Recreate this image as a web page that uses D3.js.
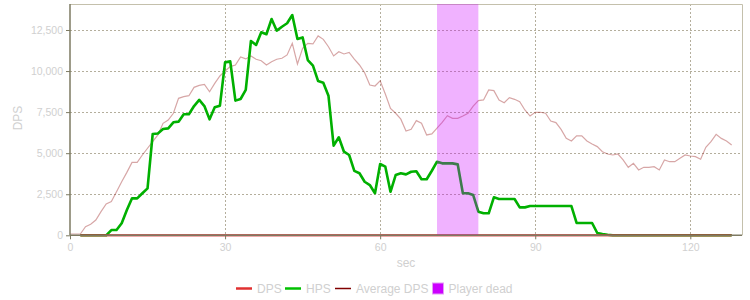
<!DOCTYPE html>
<html>
<head>
<meta charset="utf-8">
<script src="https://cdn.jsdelivr.net/npm/d3@7"></script>
<style>
  body { margin: 0; background: #fff; }
  text { font-family: "Liberation Sans", Arial, sans-serif; }
</style>
</head>
<body>
<svg id="chart"></svg>
<script>
// per-second samples; DPS/HPS start at second 2, average DPS at second 0
const seriesStart = 2;
const avgStart = 0;

const dpsValues = [
  0, 0, 0, 0, 0, 0, 0, 0, 0, 0, 0, 0, 0, 0, 0, 0, 0, 0, 0, 0,
  0, 0, 0, 0, 0, 0, 0, 0, 0, 0, 0, 0, 0, 0, 0, 0, 0, 0, 0, 0,
  0, 0, 0, 0, 0, 0, 0, 0, 0, 0, 0, 0, 0, 0, 0, 0, 0, 0, 0, 0,
  0, 0, 0, 0, 0, 0, 0, 0, 0, 0, 0, 0, 0, 0, 0, 0, 0, 0, 0, 0,
  0, 0, 0, 0, 0, 0, 0, 0, 0, 0, 0, 0, 0, 0, 0, 0, 0, 0, 0, 0,
  0, 0, 0, 0, 0, 0, 0, 0, 0, 0, 0, 0, 0, 0, 0, 0, 0, 0, 0, 0,
  0, 0, 0, 0, 0, 0, 0
];

const hpsValues = [
  0, 0, 0, 0, 0, 0,                                   // 2-7
  320, 320, 730, 1540, 2250, 2250, 2560, 2860,        // 8-15
  6170, 6200, 6470, 6510, 6880, 6920, 7370, 7370,     // 16-23
  7870, 8240, 7870, 7060, 7790, 7890, 10530, 10590,   // 24-31
  8200, 8300, 8850, 11830, 11590, 12360, 12240, 13170, // 32-39
  12460, 12700, 12910, 13410, 11950, 12050, 10670, 10330, // 40-47
  9390, 9290, 8500, 5460, 5970, 5090, 4890, 3920,     // 48-55
  3780, 3260, 3060, 2560, 4340, 4180, 2650, 3670,     // 56-63
  3780, 3710, 3870, 3900, 3410, 3410, 3930, 4480,     // 64-71
  4380, 4380, 4380, 4320, 2560, 2560, 2450, 1440,     // 72-79
  1340, 1340, 2310, 2210, 2210, 2210, 2210, 1700,     // 80-87
  1700, 1780, 1780, 1780, 1780, 1780, 1780, 1780,     // 88-95
  1780, 1780, 750, 750, 750, 750, 140, 80,            // 96-103
  30, 0, 0, 0, 0, 0, 0, 0,                            // 104-111
  0, 0, 0, 0, 0, 0, 0, 0,                             // 112-119
  0, 0, 0, 0, 0, 0, 0, 0, 0                           // 120-128
];

const avgDpsValues = [
  80, 80, 80, 520, 670, 930, 1440, 1910,              // 0-7
  2050, 2650, 3260, 3830, 4440, 4440, 4890, 5300,     // 8-15
  5700, 6110, 6820, 7020, 7430, 8340, 8440, 8500,     // 16-23
  9010, 9130, 9190, 8740, 9250, 9700, 10000, 10270,   // 24-31
  10370, 10860, 10740, 10920, 10720, 10630, 10370, 10570, // 32-39
  10720, 10780, 10980, 11690, 10430, 11390, 11690, 11650, // 40-47
  12140, 11930, 11480, 10920, 11180, 11040, 11140, 10720, // 48-55
  10370, 9900, 9150, 9090, 9410, 8600, 7730, 7430,    // 56-63
  7070, 6350, 6450, 6980, 6820, 6110, 6170, 6520,     // 64-71
  6880, 7280, 7120, 7120, 7260, 7430, 7870, 8200,     // 72-79
  8240, 8850, 8810, 8240, 8070, 8380, 8280, 8130,     // 80-87
  7630, 7260, 7490, 7490, 7430, 6960, 6860, 6450,     // 88-95
  5900, 5740, 6050, 6050, 5740, 5560, 5400, 5090,     // 96-103
  4950, 4890, 4950, 4590, 4140, 4380, 3980, 4140,     // 104-111
  4140, 4180, 3980, 4590, 4480, 4480, 4690, 4890,     // 112-119
  4830, 4790, 4630, 5360, 5700, 6150, 5900, 5740,     // 120-127
  5500                                                // 128
];

// seconds where the player was dead
const deadPeriods = [[71, 79]];

const xTicks = [0, 30, 60, 90, 120];
const yTicks = [0, 2500, 5000, 7500, 10000, 12500];
const legendLabels = ["DPS", "HPS", "Average DPS", "Player dead"];

const width = 750;
const height = 300;
const plot = { left: 70, top: 4, right: 742, bottom: 235.3 };

const svg = d3.select("#chart")
  .attr("width", width)
  .attr("height", height);

const x = d3.scaleLinear().domain([0, 130]).range([plot.left, plot.right]);
const y = d3.scaleLinear().domain([0, 14083]).range([plot.bottom, plot.top]);

const toPoints = (values, start) => values.map((v, i) => [start + i, v]);

// grid
svg.append("g")
  .selectAll("line.hgrid")
  .data(yTicks.filter(d => d > 0))
  .join("line")
  .attr("x1", plot.left).attr("x2", plot.right)
  .attr("y1", d => Math.round(y(d)) + 0.5).attr("y2", d => Math.round(y(d)) + 0.5)
  .attr("stroke", "#b4ae9c")
  .attr("stroke-dasharray", "2,2");

svg.append("g")
  .selectAll("line.vgrid")
  .data(xTicks.filter(d => d > 0))
  .join("line")
  .attr("x1", d => Math.round(x(d)) + 0.5).attr("x2", d => Math.round(x(d)) + 0.5)
  .attr("y1", plot.top).attr("y2", plot.bottom)
  .attr("stroke", "#b4ae9c")
  .attr("stroke-dasharray", "2,2");

// top / right border
svg.append("path")
  .attr("d", `M${plot.left},${plot.top + 0.5}H${plot.right + 0.5}V${plot.bottom}`)
  .attr("fill", "none")
  .attr("stroke", "#c4c0ac");

const line = d3.line().x(d => x(d[0])).y(d => y(d[1]));

// series
svg.append("path")
  .datum(toPoints(avgDpsValues, avgStart))
  .attr("d", line)
  .attr("fill", "none")
  .attr("stroke", "#8b0000")
  .attr("stroke-opacity", 0.35)
  .attr("stroke-width", 1.2);

svg.append("path")
  .datum(toPoints(hpsValues, seriesStart))
  .attr("d", line)
  .attr("fill", "none")
  .attr("stroke", "#00b000")
  .attr("stroke-width", 2.6)
  .attr("stroke-linejoin", "round");

svg.append("path")
  .datum(toPoints(dpsValues, seriesStart))
  .attr("d", line)
  .attr("fill", "none")
  .attr("stroke", "#d42020")
  .attr("stroke-opacity", 0.75)
  .attr("stroke-width", 2.4);

// player dead band
svg.append("g")
  .selectAll("rect")
  .data(deadPeriods)
  .join("rect")
  .attr("x", d => x(d[0]))
  .attr("width", d => x(d[1]) - x(d[0]))
  .attr("y", plot.top)
  .attr("height", plot.bottom - plot.top)
  .attr("fill", "#cc00ff")
  .attr("fill-opacity", 0.3);

// axes
const xAxis = d3.axisBottom(x)
  .tickValues(xTicks)
  .tickSize(4)
  .tickPadding(4)
  .tickSizeOuter(0);

const xg = svg.append("g")
  .attr("transform", `translate(0,${plot.bottom})`)
  .call(xAxis);

const yAxis = d3.axisLeft(y)
  .tickValues(yTicks)
  .tickFormat(d3.format(","))
  .tickSize(4)
  .tickPadding(3)
  .tickSizeOuter(0);

const yg = svg.append("g")
  .attr("transform", `translate(${plot.left},0)`)
  .call(yAxis);

[xg, yg].forEach(g => {
  g.select(".domain").attr("stroke", "#7d7a62").attr("stroke-width", 1.5);
  g.selectAll(".tick line").attr("stroke", "#7d7a62");
  g.selectAll(".tick text")
    .attr("fill", "#d0d0d0")
    .style("font-size", "10.5px")
    .style("font-family", "'Liberation Sans', Arial, sans-serif");
});
yg.select(".domain").attr("d", `M0,${plot.top}V${plot.bottom}`);
xg.select(".domain").attr("d", `M${plot.left},0H${plot.right}`);

// axis titles
svg.append("text")
  .attr("x", (plot.left + plot.right) / 2)
  .attr("y", 267)
  .attr("text-anchor", "middle")
  .attr("fill", "#d0d0d0")
  .style("font-size", "12px")
  .text("sec");

svg.append("text")
  .attr("transform", "translate(22,118) rotate(-90)")
  .attr("text-anchor", "middle")
  .attr("fill", "#d0d0d0")
  .style("font-size", "12px")
  .text("DPS");

// legend
const legendStyles = [
  { kind: "line", color: "#e03030", w: 2.5 },
  { kind: "line", color: "#00c000", w: 2.5 },
  { kind: "line", color: "#800000", w: 1.5 },
  { kind: "box", color: "#cc00ff" }
];
const legendX = [236, 285, 335, 432];
const legendY = 288.5;

const legend = svg.append("g");
legendLabels.forEach((label, i) => {
  const s = legendStyles[i];
  const gx = legendX[i];
  if (s.kind === "line") {
    legend.append("line")
      .attr("x1", gx).attr("x2", gx + 16)
      .attr("y1", legendY).attr("y2", legendY)
      .attr("stroke", s.color)
      .attr("stroke-width", s.w);
  } else {
    legend.append("rect")
      .attr("x", gx + 0.5).attr("y", legendY - 5.5)
      .attr("width", 11).attr("height", 11)
      .attr("fill", s.color)
      .attr("stroke", "#e39cf5");
  }
  legend.append("text")
    .attr("x", gx + (s.kind === "line" ? 21 : 16.5))
    .attr("y", legendY + 4.3)
    .attr("fill", "#d0d0d0")
    .style("font-size", "12px")
    .text(label);
});
</script>
</body>
</html>
